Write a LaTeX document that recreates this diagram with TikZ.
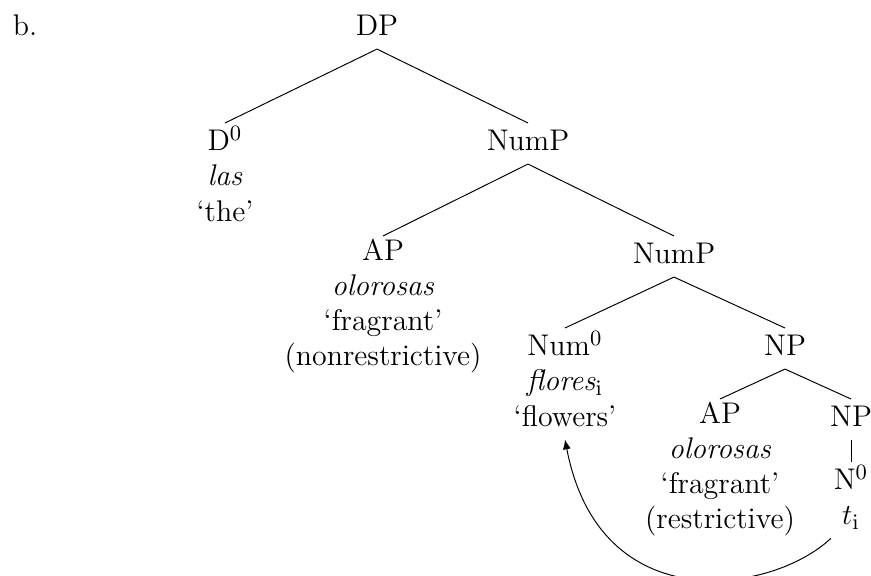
\documentclass[tikz,border=0pt]{standalone}
\usepackage{amsmath}
\usepackage{tikz}
\usetikzlibrary{arrows.meta}

\tikzset{
  cat/.style={anchor=north, inner sep=1pt, align=center,
    execute at begin node=\strut, execute at end node=\strut},
  move/.style={-{Latex[length=4pt, width=3.3pt]}}
}

\begin{document}
\begin{tikzpicture}[x=0.4115pt, y=-0.4115pt, font=\fontsize{12.3}{14.5}\selectfont]
    %\draw[help lines, step=50] (0, 0) grid (871, 576);
    \useasboundingbox (0, 0) rectangle (871, 576);

    \node[cat, anchor=north west] at (10, 8) (ex) {b.};

    \node[cat] at (377, 8) (dp) {DP};
    \node[cat] at (225, 123) (d0) {D$^0$\\ \textit{las}\\ `the'};
    \node[cat] at (528, 123) (numpa) {NumP};
    \node[cat] at (383, 236) (apa) {AP\\ \textit{olorosas}\\ `fragrant'\\ (nonrestrictive)};
    \node[cat] at (674, 236) (numpb) {NumP};
    \node[cat] at (565, 328) (num0) {Num$^0$\\ \textit{flores}$_{\mathrm{i}}$\\ `flowers'};
    \node[cat] at (785, 328) (npa) {NP};
    \node[cat] at (720, 399) (apb) {AP\\ \textit{olorosas}\\ `fragrant'\\ (restrictive)};
    \node[cat] at (851, 399) (npb) {NP};
    \node[cat] at (851, 462) (n0) {N$^0$\\ $t_{\mathrm{i}}$};

    \draw (dp.south) -- (d0.north);
    \draw (dp.south) -- (numpa.north);
    \draw (numpa.south) -- (apa.north);
    \draw (numpa.south) -- (numpb.north);
    \draw (numpb.south) -- (num0.north);
    \draw (numpb.south) -- (npa.north);
    \draw (npa.south) -- (apb.north);
    \draw (npa.south) -- (npb.north);
    \draw (npb.south) -- (n0.north);

    % head movement
    \draw[move] (n0.south west) .. controls +(-58, 55) and +(35, 182) .. (num0.south);

  \end{tikzpicture}
\end{document}
